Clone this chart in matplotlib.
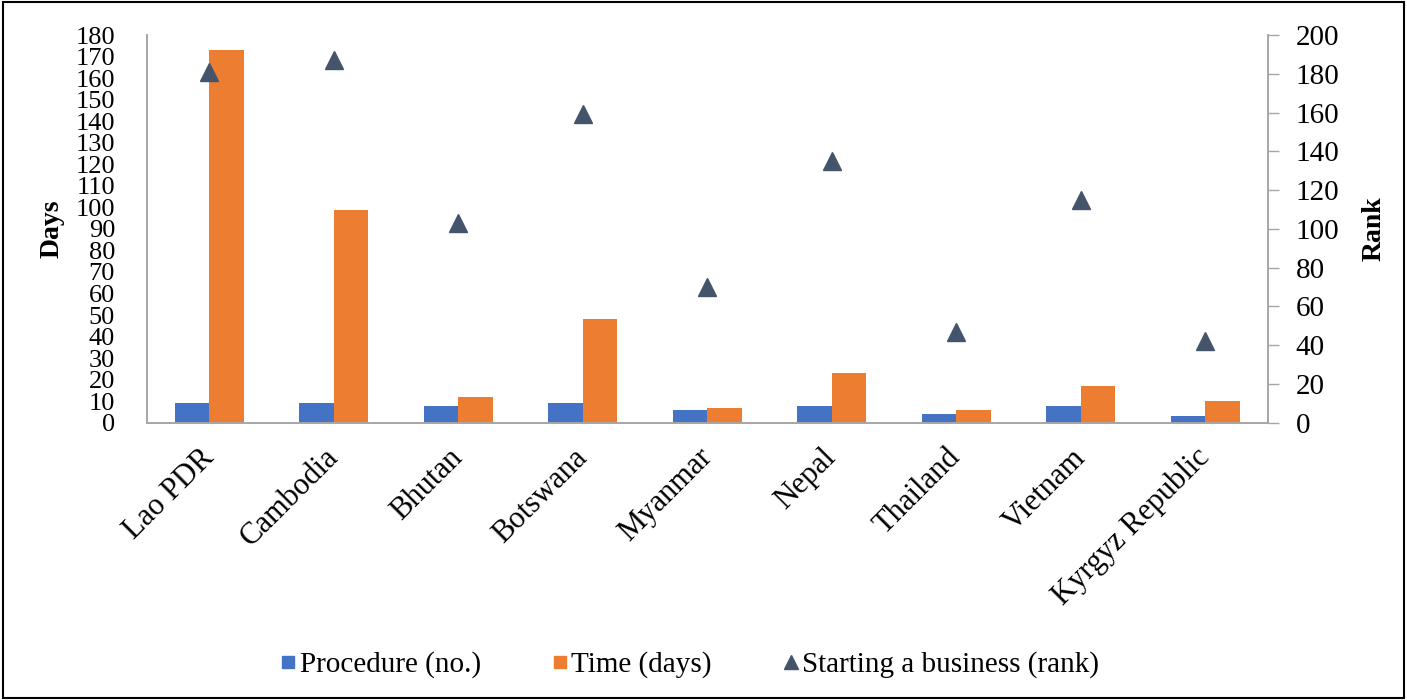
import matplotlib
matplotlib.use("Agg")
import matplotlib.pyplot as plt
import numpy as np
from matplotlib.lines import Line2D
from matplotlib.patches import Rectangle

plt.rcParams['font.family'] = ['Liberation Serif', 'DejaVu Serif']

countries = ["Lao PDR", "Cambodia", "Bhutan", "Botswana", "Myanmar",
             "Nepal", "Thailand", "Vietnam", "Kyrgyz Republic"]
procedures = [9, 9, 8, 9, 6, 8, 4, 8, 3]
time_days = [173, 99, 12, 48, 7, 23, 6, 17, 10]
rank = [181, 187, 103, 159, 70, 135, 47, 115, 42]

left_ticks = list(range(0, 181, 10))
right_ticks = list(range(0, 201, 20))

c_blue = "#4472C4"
c_orange = "#ED7D31"
c_tri = "#44546A"
c_spine = "#A6A6A6"

fig = plt.figure(figsize=(14.07, 7.0), dpi=100)
ax = fig.add_axes([0.1045, 0.396, 0.7965, 0.554])
ax2 = ax.twinx()

x = np.arange(len(countries))
w = 0.277
ax.bar(x - w / 2, procedures, w, color=c_blue, label="Procedure (no.)")
ax.bar(x + w / 2, time_days, w, color=c_orange, label="Time (days)")
ax2.plot(x, rank, linestyle="none", marker="^", markersize=13, color=c_tri,
         label="Starting a business (rank)")

ax.set_xlim(-0.5, len(countries) - 0.5)
ax.set_ylim(0, 180)
ax.set_yticks(left_ticks)
ax.set_yticklabels([str(t) for t in left_ticks], fontsize=19)
ax.tick_params(axis="y", length=0, pad=23)
ax2.set_ylim(0, 200)
ax2.set_yticks(right_ticks)
ax2.set_yticklabels([str(t) for t in right_ticks], fontsize=21)
ax2.tick_params(axis="y", length=8, width=1, color=c_spine, pad=12, direction="out")

ax.set_xticks(x)
ax.set_xticklabels(countries, rotation=45, ha="right", va="center",
                   rotation_mode="anchor", fontsize=22)
ax.tick_params(axis="x", length=0, pad=22)

for a in (ax, ax2):
    a.spines["top"].set_visible(False)
    for s in ("left", "right", "bottom"):
        a.spines[s].set_color(c_spine)
        a.spines[s].set_linewidth(1.2)

ax.set_ylabel("Days", fontsize=20, fontweight="bold", labelpad=8)
ax2.set_ylabel("Rank", fontsize=20, fontweight="bold", labelpad=16)

handles = [
    Line2D([], [], marker="s", linestyle="none", color=c_blue, markersize=9),
    Line2D([], [], marker="s", linestyle="none", color=c_orange, markersize=9),
    Line2D([], [], marker="^", linestyle="none", color=c_tri, markersize=10),
]
labels = ["Procedure (no.)", "Time (days)", "Starting a business (rank)"]
fig.legend(handles, labels, loc="center", bbox_to_anchor=(0.49, 0.05), ncol=3,
           frameon=False, prop={"family": "Liberation Serif", "size": 21},
           handlelength=0.6, handletextpad=0.1, columnspacing=2.4)

fig.patches.append(Rectangle((0.002, 0.003), 0.996, 0.994, transform=fig.transFigure,
                             fill=False, edgecolor="black", linewidth=1.5))

fig.savefig("out.png", dpi=100)
